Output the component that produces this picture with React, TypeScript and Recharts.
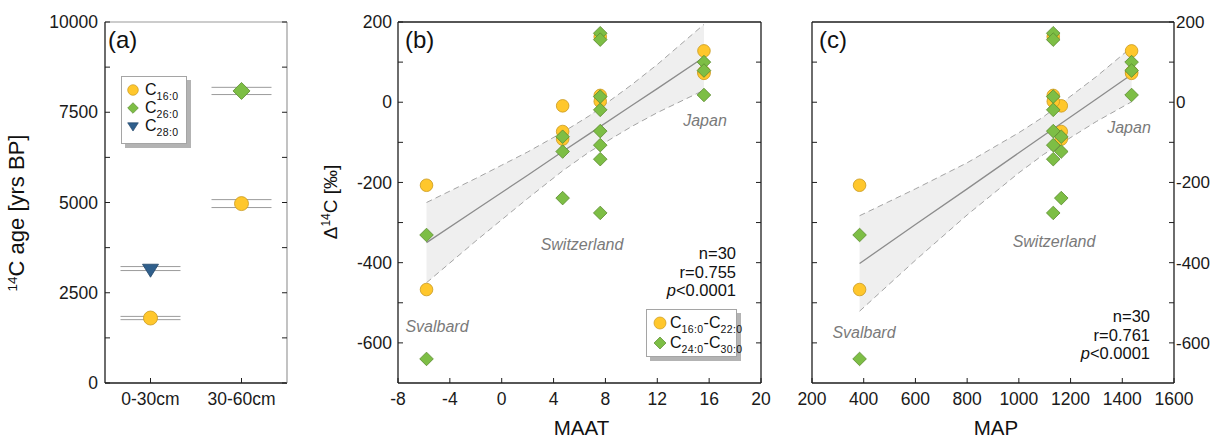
import React from 'react';
import { ComposedChart, Scatter, Line, Area, XAxis, YAxis, ErrorBar, Legend } from 'recharts';

const FONT = '"Liberation Sans", Arial, Helvetica, sans-serif';
const YELLOW = '#FFC72C';
const YELLOW_EDGE = '#C9991F';
const GREEN = '#7DBE45';
const GREEN_EDGE = '#5A8A2E';
const BLUE = '#2F5F8C';
const BLUE_EDGE = '#22466A';
const AXIS = '#1e1e1e';
const NOTE = '#7a7a7a';

// ---------------- Panel (a): 14C age by depth ----------------
const depthCategories = ['0-30cm', '30-60cm'];
const c16Depths = ['0-30cm', '30-60cm'];
const c16Ages = [1800, 4970];
const c16Errors = [45, 110];
const c26Depths = ['30-60cm'];
const c26Ages = [8090];
const c26Errors = [100];
const c28Depths = ['0-30cm'];
const c28Ages = [3170];
const c28Errors = [55];
const ageTicks = [0, 1250, 2500, 3750, 5000, 6250, 7500, 8750, 10000];
const legendALabels = [['C', '16:0'], ['C', '26:0'], ['C', '28:0']];

// ---------------- Panels (b), (c): D14C vs climate ----------------
const siteNames = ['Svalbard', 'Switzerland-1', 'Switzerland-2', 'Japan'];
const siteMAAT = [-5.8, 4.7, 7.6, 15.6];
const siteMAP = [384, 1164, 1133, 1436];
const shortSiteIdx = [0, 0, 1, 1, 1, 2, 2, 2, 3, 3, 3];
const shortD14C = [-207, -467, -9, -73, -92, 163, 17, 2, 128, 75, 72];
const longSiteIdx = [0, 0, 1, 1, 1, 2, 2, 2, 2, 2, 2, 2, 2, 3, 3, 3];
const longD14C = [-331, -640, -86, -123, -239, 172, 156, 14, -19, -72, -107, -142, -276, 100, 79, 18];
const legendBLabels = [['C', '16:0', '-C', '22:0'], ['C', '24:0', '-C', '30:0']];

// regression line and confidence band
const maatFitX = [-5.8, -2, 0, 2, 4.7, 6.75, 10, 12, 15.6];
const maatFitLine = [-350, -268, -225, -182, -123, -79, -9, 34, 112];
const maatFitUpper = [-250, -190, -157, -124, -75, -34, 43, 94, 194];
const maatFitLower = [-450, -346, -293, -240, -171, -124, -61, -26, 30];

const mapFitX = [384, 600, 800, 1000, 1096, 1300, 1436];
const mapFitLine = [-402, -305, -216, -126, -83, 8, 69];
const mapFitUpper = [-283, -216, -151, -76, -36, 64, 137];
const mapFitLower = [-521, -394, -281, -176, -130, -48, 1];

const maatTicks = [-8, -4, 0, 4, 8, 12, 16, 20];
const maatTopTicks = [-4, 0, 4, 8, 12, 16];
const mapTicks = [200, 400, 600, 800, 1000, 1200, 1400, 1600];
const mapTopTicks = [400, 600, 800, 1000, 1200, 1400];
const d14cTicks = [-600, -500, -400, -300, -200, -100, 0, 100, 200];
const d14cRightTicks = [-600, -500, -400, -300, -200, -100, 0, 100];

// ---------------- derived tables ----------------
const toDepthRows = (depths: string[], ages: number[], errs: number[]) =>
  depths.map((d, i) => ({ x: depthCategories.indexOf(d) + 0.5, y: ages[i], err: errs[i] }));
const c16Data = toDepthRows(c16Depths, c16Ages, c16Errors);
const c26Data = toDepthRows(c26Depths, c26Ages, c26Errors);
const c28Data = toDepthRows(c28Depths, c28Ages, c28Errors);

const shortMAAT = shortSiteIdx.map((s, i) => ({ x: siteMAAT[s], y: shortD14C[i], site: siteNames[s] }));
const longMAAT = longSiteIdx.map((s, i) => ({ x: siteMAAT[s], y: longD14C[i], site: siteNames[s] }));
const shortMAP = shortSiteIdx.map((s, i) => ({ x: siteMAP[s], y: shortD14C[i], site: siteNames[s] }));
const longMAP = longSiteIdx.map((s, i) => ({ x: siteMAP[s], y: longD14C[i], site: siteNames[s] }));

const maatFitData = maatFitX.map((x, i) => ({
  x, fit: maatFitLine[i], upper: maatFitUpper[i], lower: maatFitLower[i], band: [maatFitLower[i], maatFitUpper[i]],
}));
const mapFitData = mapFitX.map((x, i) => ({
  x, fit: mapFitLine[i], upper: mapFitUpper[i], lower: mapFitLower[i], band: [mapFitLower[i], mapFitUpper[i]],
}));

// ---------------- shapes ----------------
const makeCircle = (r: number) => (p: any) =>
  p.cx == null ? <g /> : <circle cx={p.cx} cy={p.cy} r={r} fill={YELLOW} stroke={YELLOW_EDGE} strokeWidth={0.8} />;
const makeDiamond = (s: number) => (p: any) =>
  p.cx == null ? <g /> : (
    <polygon
      points={`${p.cx},${p.cy - s} ${p.cx + s},${p.cy} ${p.cx},${p.cy + s} ${p.cx - s},${p.cy}`}
      fill={GREEN}
      stroke={GREEN_EDGE}
      strokeWidth={0.8}
    />
  );
const makeTriangle = (w: number, h: number) => (p: any) =>
  p.cx == null ? <g /> : (
    <polygon
      points={`${p.cx - w},${p.cy - h / 3} ${p.cx + w},${p.cy - h / 3} ${p.cx},${p.cy + (2 * h) / 3}`}
      fill={BLUE}
      stroke={BLUE_EDGE}
      strokeWidth={0.8}
    />
  );

const EmptyTick = () => <g />;
const tickStyle = { fill: '#1a1a1a', fontSize: 17.5, fontFamily: FONT };
const axisLine = { stroke: AXIS, strokeWidth: 1.3 };
const tickLine = { stroke: AXIS, strokeWidth: 1 };
const evenLabel = (v: number) => (v % 200 === 0 ? String(v) : '');

// ---------------- legend box ----------------
function LegendIcon({ kind, size }: { kind: string; size: number }) {
  const c = 8;
  return (
    <svg width={16} height={16} style={{ position: 'absolute', left: 0, top: 0, overflow: 'visible' }}>
      {kind === 'circle' && <circle cx={c} cy={c} r={size} fill={YELLOW} stroke={YELLOW_EDGE} strokeWidth={0.7} />}
      {kind === 'diamond' && (
        <polygon points={`${c},${c - size} ${c + size},${c} ${c},${c + size} ${c - size},${c}`} fill={GREEN} stroke={GREEN_EDGE} strokeWidth={0.7} />
      )}
      {kind === 'triangle' && (
        <polygon points={`${c - size},${c - size * 0.6} ${c + size},${c - size * 0.6} ${c},${c + size * 0.95}`} fill={BLUE} stroke={BLUE_EDGE} strokeWidth={0.7} />
      )}
    </svg>
  );
}

function LegendBox(props: {
  labels: string[][]; kinds: string[]; width: number; height: number; rows: number[];
  iconX: number; textX: number; iconSize: number; subSize: number;
}) {
  const { labels, kinds, width, height, rows, iconX, textX, iconSize, subSize } = props;
  return (
    <div
      style={{
        position: 'relative', width, height, boxSizing: 'border-box', border: '1px solid #a5a5a5',
        background: '#fff', boxShadow: '4px 4px 0 #b3b3b3', fontFamily: FONT, color: '#111',
      }}
    >
      {labels.map((parts, i) => (
        <div key={i} style={{ position: 'absolute', left: 0, top: rows[i] - 11, height: 20, width: '100%' }}>
          <div style={{ position: 'absolute', left: iconX - 9, top: 2, width: 16, height: 16 }}>
            <LegendIcon kind={kinds[i]} size={iconSize} />
          </div>
          <div style={{ position: 'absolute', left: textX - 1, top: 0, lineHeight: '20px', fontSize: 16, whiteSpace: 'nowrap' }}>
            {parts.map((t, j) =>
              j % 2 === 0 ? (
                <span key={j}>{t}</span>
              ) : (
                <span key={j} style={{ fontSize: subSize, verticalAlign: '-5px', lineHeight: 0, letterSpacing: 0.4 }}>{t}</span>
              )
            )}
          </div>
        </div>
      ))}
    </div>
  );
}

// ---------------- panels ----------------
function PanelA() {
  return (
    <ComposedChart width={300} height={439} margin={{ top: 21, right: 12, bottom: 0, left: 0 }}>
      <XAxis
        xAxisId={0} type="number" dataKey="x" domain={[0, 2]} ticks={[0.5, 1.5]} allowDataOverflow
        tickFormatter={(v: number) => depthCategories[Math.floor(v)]}
        height={56} tickSize={-5} tickMargin={15} interval={0}
        axisLine={axisLine} tickLine={tickLine} tick={tickStyle}
      />
      <XAxis
        xAxisId="top" orientation="top" type="number" domain={[0, 2]} ticks={[0.5, 1.5]} allowDataOverflow
        height={1} tick={EmptyTick} tickLine={false} axisLine={{ stroke: '#9a9a9a', strokeWidth: 1.2 }}
      />
      <YAxis
        yAxisId={0} type="number" domain={[0, 10000]} ticks={ageTicks} allowDataOverflow
        tickFormatter={(v: number) => (v % 2500 === 0 ? String(v) : '')}
        width={105} tickSize={-5} tickMargin={12} interval={0}
        axisLine={axisLine} tickLine={tickLine} tick={tickStyle}
      />
      <YAxis
        yAxisId="r" orientation="right" type="number" domain={[0, 10000]} ticks={ageTicks} allowDataOverflow
        width={1} tickSize={-5} tick={EmptyTick} interval={0}
        axisLine={{ stroke: '#9a9a9a', strokeWidth: 1.2 }} tickLine={tickLine}
      />
      <Scatter name="C16:0" data={c16Data} dataKey="y" shape={makeCircle(7)} isAnimationActive={false}>
        <ErrorBar dataKey="err" direction="y" width={30} stroke="#9c9c9c" strokeWidth={1} />
      </Scatter>
      <Scatter name="C26:0" data={c26Data} dataKey="y" shape={makeDiamond(8.5)} isAnimationActive={false}>
        <ErrorBar dataKey="err" direction="y" width={30} stroke="#9c9c9c" strokeWidth={1} />
      </Scatter>
      <Scatter name="C28:0" data={c28Data} dataKey="y" shape={makeTriangle(8, 13)} isAnimationActive={false}>
        <ErrorBar dataKey="err" direction="y" width={30} stroke="#9c9c9c" strokeWidth={1} />
      </Scatter>
      <Legend
        layout="vertical" align="center" verticalAlign="middle"
        wrapperStyle={{ left: 121, top: 76, width: 72, height: 74 }}
        content={() => (
          <LegendBox
            labels={legendALabels} kinds={['circle', 'diamond', 'triangle']} width={66} height={68}
            rows={[13.5, 31.8, 50]} iconX={12} textX={24} iconSize={5.3} subSize={10.5}
          />
        )}
      />
      <text x={108} y={48} fontSize={24} fontFamily={FONT} fill="#111">(a)</text>
      <text x={23.5} y={213} transform="rotate(-90, 23.5, 213)" textAnchor="middle" fontSize={22} fontFamily={FONT} fill="#111">
        <tspan fontSize={13.5} baselineShift="super">14</tspan>
        <tspan>C age [yrs BP]</tspan>
      </text>
    </ComposedChart>
  );
}

function PanelB() {
  return (
    <ComposedChart width={480} height={439} margin={{ top: 21, right: 18, bottom: 0, left: 0 }}>
      <XAxis
        xAxisId={0} type="number" dataKey="x" domain={[-8, 20]} ticks={maatTicks} allowDataOverflow
        height={56} tickSize={-5} tickMargin={15} interval={0}
        axisLine={axisLine} tickLine={tickLine} tick={tickStyle}
      />
      <XAxis
        xAxisId="top" orientation="top" type="number" domain={[-8, 20]} ticks={maatTopTicks} allowDataOverflow
        height={1} tickSize={-5} tick={EmptyTick} interval={0} axisLine={axisLine} tickLine={tickLine}
      />
      <YAxis
        yAxisId={0} type="number" domain={[-700, 200]} ticks={d14cTicks} allowDataOverflow
        tickFormatter={evenLabel} width={98} tickSize={-5} tickMargin={11} interval={0}
        axisLine={axisLine} tickLine={tickLine} tick={tickStyle}
      />
      <YAxis
        yAxisId="r" orientation="right" type="number" domain={[-700, 200]} ticks={d14cRightTicks} allowDataOverflow
        width={1} tickSize={-5} tick={EmptyTick} interval={0} axisLine={axisLine} tickLine={tickLine}
      />
      <Area data={maatFitData} dataKey="band" type="linear" stroke="none" fill="#efefef" fillOpacity={1} isAnimationActive={false} />
      <Line data={maatFitData} dataKey="upper" type="linear" dot={false} stroke="#9a9a9a" strokeWidth={0.9} strokeDasharray="6 4" isAnimationActive={false} />
      <Line data={maatFitData} dataKey="lower" type="linear" dot={false} stroke="#9a9a9a" strokeWidth={0.9} strokeDasharray="6 4" isAnimationActive={false} />
      <Line data={maatFitData} dataKey="fit" type="linear" dot={false} stroke="#8c8c8c" strokeWidth={1.3} isAnimationActive={false} />
      <Scatter name="C16:0-C22:0" data={shortMAAT} dataKey="y" shape={makeCircle(6.3)} isAnimationActive={false} />
      <Scatter name="C24:0-C30:0" data={longMAAT} dataKey="y" shape={makeDiamond(6.8)} isAnimationActive={false} />
      <Legend
        layout="vertical" align="center" verticalAlign="middle"
        wrapperStyle={{ left: 346, top: 309, width: 97, height: 54 }}
        content={() => (
          <LegendBox
            labels={legendBLabels} kinds={['circle', 'diamond']} width={91} height={48}
            rows={[13.7, 33.7]} iconX={14} textX={24} iconSize={6} subSize={10.5}
          />
        )}
      />
      <text x={105} y={48} fontSize={24} fontFamily={FONT} fill="#111">(b)</text>
      <text x={37} y={202} transform="rotate(-90, 37, 202)" textAnchor="middle" fontSize={19} fontFamily={FONT} fill="#111">
        <tspan>Δ</tspan>
        <tspan fontSize={12} baselineShift="super">14</tspan>
        <tspan>C [‰]</tspan>
      </text>
      <text x={405} y={126} textAnchor="middle" fontSize={16} fontStyle="italic" fontFamily={FONT} fill={NOTE}>Japan</text>
      <text x={282} y={250} textAnchor="middle" fontSize={16} fontStyle="italic" fontFamily={FONT} fill={NOTE}>Switzerland</text>
      <text x={137} y={331.5} textAnchor="middle" fontSize={16} fontStyle="italic" fontFamily={FONT} fill={NOTE}>Svalbard</text>
      <text x={436} y={259} textAnchor="end" fontSize={16.5} fontFamily={FONT} fill="#111">n=30</text>
      <text x={436} y={277.5} textAnchor="end" fontSize={16.5} fontFamily={FONT} fill="#111">r=0.755</text>
      <text x={436} y={296} textAnchor="end" fontSize={16.5} fontFamily={FONT} fill="#111">
        <tspan fontStyle="italic">p</tspan>
        <tspan>{'<0.0001'}</tspan>
      </text>
      <text x={281.5} y={435} textAnchor="middle" fontSize={20.5} fontFamily={FONT} fill="#111">MAAT</text>
    </ComposedChart>
  );
}

function PanelC() {
  return (
    <ComposedChart width={435} height={439} margin={{ top: 21, right: 0, bottom: 0, left: 0 }}>
      <XAxis
        xAxisId={0} type="number" dataKey="x" domain={[200, 1600]} ticks={mapTicks} allowDataOverflow
        height={56} tickSize={-5} tickMargin={15} interval={0}
        axisLine={axisLine} tickLine={tickLine} tick={tickStyle}
      />
      <XAxis
        xAxisId="top" orientation="top" type="number" domain={[200, 1600]} ticks={mapTopTicks} allowDataOverflow
        height={1} tickSize={-5} tick={EmptyTick} interval={0} axisLine={axisLine} tickLine={tickLine}
      />
      <YAxis
        yAxisId={0} type="number" domain={[-700, 200]} ticks={d14cRightTicks} allowDataOverflow
        width={32} tickSize={-5} tick={EmptyTick} interval={0} axisLine={axisLine} tickLine={tickLine}
      />
      <YAxis
        yAxisId="r" orientation="right" type="number" domain={[-700, 200]} ticks={d14cTicks} allowDataOverflow
        tickFormatter={evenLabel} width={41} tickSize={-5} tickMargin={7} interval={0}
        axisLine={axisLine} tickLine={tickLine} tick={{ ...tickStyle, fontSize: 17 }}
      />
      <Area data={mapFitData} dataKey="band" type="linear" stroke="none" fill="#efefef" fillOpacity={1} isAnimationActive={false} />
      <Line data={mapFitData} dataKey="upper" type="linear" dot={false} stroke="#9a9a9a" strokeWidth={0.9} strokeDasharray="6 4" isAnimationActive={false} />
      <Line data={mapFitData} dataKey="lower" type="linear" dot={false} stroke="#9a9a9a" strokeWidth={0.9} strokeDasharray="6 4" isAnimationActive={false} />
      <Line data={mapFitData} dataKey="fit" type="linear" dot={false} stroke="#8c8c8c" strokeWidth={1.3} isAnimationActive={false} />
      <Scatter name="C16:0-C22:0" data={shortMAP} dataKey="y" shape={makeCircle(6.3)} isAnimationActive={false} />
      <Scatter name="C24:0-C30:0" data={longMAP} dataKey="y" shape={makeDiamond(6.8)} isAnimationActive={false} />
      <text x={39} y={48} fontSize={24} fontFamily={FONT} fill="#111">(c)</text>
      <text x={349} y={133} textAnchor="middle" fontSize={16} fontStyle="italic" fontFamily={FONT} fill={NOTE}>Japan</text>
      <text x={274} y={246.5} textAnchor="middle" fontSize={16} fontStyle="italic" fontFamily={FONT} fill={NOTE}>Switzerland</text>
      <text x={84} y={337.5} textAnchor="middle" fontSize={16} fontStyle="italic" fontFamily={FONT} fill={NOTE}>Svalbard</text>
      <text x={370} y={322} textAnchor="end" fontSize={16.5} fontFamily={FONT} fill="#111">n=30</text>
      <text x={370} y={340.5} textAnchor="end" fontSize={16.5} fontFamily={FONT} fill="#111">r=0.761</text>
      <text x={370} y={359} textAnchor="end" fontSize={16.5} fontFamily={FONT} fill="#111">
        <tspan fontStyle="italic">p</tspan>
        <tspan>{'<0.0001'}</tspan>
      </text>
      <text x={216} y={435} textAnchor="middle" fontSize={20.5} fontFamily={FONT} fill="#111">MAP</text>
    </ComposedChart>
  );
}

export default function App() {
  return (
    <div style={{ position: 'absolute', left: 0, top: 0, width: 1215, height: 439, background: '#fff', overflow: 'hidden', fontFamily: FONT }}>
      <div style={{ position: 'absolute', left: 0, top: 0 }}>
        <PanelA />
      </div>
      <div style={{ position: 'absolute', left: 300, top: 0 }}>
        <PanelB />
      </div>
      <div style={{ position: 'absolute', left: 780, top: 0 }}>
        <PanelC />
      </div>
    </div>
  );
}
